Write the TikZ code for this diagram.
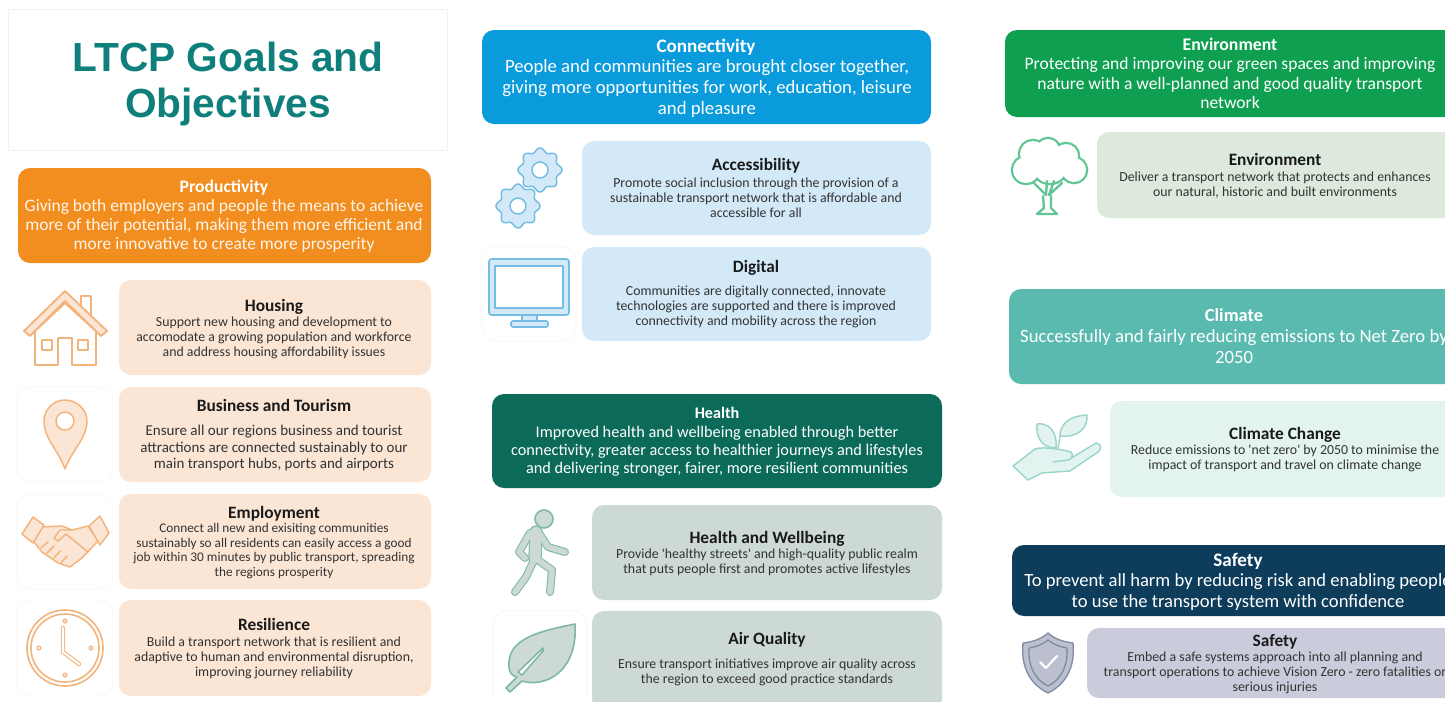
\documentclass[tikz,border=0pt]{standalone}
\usepackage{fontspec}
\setmainfont{Carlito}
\newfontfamily\bodyfont{Carlito}
\newfontfamily\titlefont{Liberation Sans}
\definecolor{cOrange}{HTML}{F28E1F}
\definecolor{cBlue}{HTML}{0A9BDD}
\definecolor{cHealth}{HTML}{0B6B58}
\definecolor{cGreen}{HTML}{0E9F50}
\definecolor{cClimate}{HTML}{5BBAB0}
\definecolor{cSafety}{HTML}{0E3D5B}
\definecolor{sOrange}{HTML}{FBE5D5}
\definecolor{sBlue}{HTML}{D3E9F8}
\definecolor{sHealth}{HTML}{CDD9D5}
\definecolor{sGreen}{HTML}{DDE9DC}
\definecolor{sClimate}{HTML}{E3F3EF}
\definecolor{sSafety}{HTML}{CBCCDB}
\definecolor{lOrange}{HTML}{F3B47C}
\definecolor{lBlue}{HTML}{74BCE4}
\definecolor{lHealth}{HTML}{7DB9A6}
\definecolor{lGreen}{HTML}{62C595}
\definecolor{lClimate}{HTML}{9AD6CB}
\definecolor{lSafety}{HTML}{7F8DA3}
\definecolor{inkT}{HTML}{1A1A1A}
\definecolor{inkB}{HTML}{333333}
\definecolor{teal}{HTML}{0F7F7C}
\tikzset{
  x=0.75pt,y=-0.75pt,
  card/.style={rounded corners=9pt,draw=none},
  iconpanel/.style={rounded corners=10pt,draw=black!4,fill=white,line width=.4pt},
  headtitle/.style={inner sep=0pt,text=white,font=\fontsize{#1}{16}\selectfont\bfseries},
  headbody/.style 2 args={inner sep=0pt,text=white,align=center,font=\fontsize{#1}{#2}\selectfont},
  subtitle/.style={inner sep=0pt,text=inkT,font=\fontsize{13}{15}\selectfont\bfseries},
  subbody/.style 2 args={inner sep=0pt,text=inkB,align=center,font=\bodyfont\fontsize{#1}{#2}\selectfont},
  subplain/.style={subbody={10.37}{11.25}},
  icon/.style={line width=1.4pt,line join=round,line cap=round},
}
\newcommand\cardbox[5]{\path[card,fill=#5] (#1,#2) rectangle (#3,#4);}
\newcommand\panelbox[4]{\path[iconpanel] (#1,#2) rectangle (#3,#4);}
\newcommand\gearicon[2]{%
  \draw[icon,line width=1.1pt,draw=lBlue,fill=sBlue] plot[smooth cycle,domain=0:357,samples=120,variable=\t]
    ({#1+(20+2*cos(8*\t))*cos(\t)},{#2+(20+2*cos(8*\t))*sin(\t)});
  \draw[icon,line width=1.1pt,draw=lBlue,fill=white] (#1,#2) circle[radius=8];}
\begin{document}
\begin{tikzpicture}
\useasboundingbox (0,0) rectangle (1445,701);
\clip (0,0) rectangle (1445,701);
\fill[white] (0,0) rectangle (1445,701);

% ---- title panel
\path[draw=black!6,fill=white,line width=.4pt] (8,9) rectangle (447,150);
\node[inner sep=0pt,text=teal,align=center,font=\titlefont\fontsize{30.5}{34.5}\selectfont\bfseries] (title) at (228,84) {LTCP Goals and\\Objectives};

% ---- left column
\cardbox{18}{168}{431}{263}{cOrange}
\node[headtitle=13.2] (prodT) at (224,188) {Productivity};
\node[headbody={13.1}{14.25},text=white!92!orange] (prodB) at (224,226) {Giving both employers and people the means to achieve\\more of their potential, making them more efficient and\\more innovative to create more prosperity};

\cardbox{119}{280}{431}{375}{sOrange}
\node[subtitle] (houT) at (274,307) {Housing};
\node[subplain] (houB) at (274,338) {Support new housing and development to\\accomodate a growing population and workforce\\and address housing affordability issues};

\panelbox{17}{387}{113}{482}
\cardbox{119}{387}{431}{482}{sOrange}
\node[subtitle] (busT) at (274,405) {Business and Tourism};
\node[subbody={11.25}{12.4}] (busB) at (274,448) {Ensure all our regions business and tourist\\attractions are connected sustainably to our\\main transport hubs, ports and airports};

\panelbox{17}{494}{113}{589}
\cardbox{119}{494}{431}{589}{sOrange}
\node[subtitle] (empT) at (274,514) {Employment};
\node[subbody={9.95}{10.9}] (empB) at (274,551) {Connect all new and exisiting communities\\sustainably so all residents can easily access a good\\job within 30 minutes by public transport, spreading\\the regions prosperity};

\panelbox{17}{600}{113}{696}
\cardbox{119}{600}{431}{696}{sOrange}
\node[subtitle] (resT) at (274,624) {Resilience};
\node[subplain] (resB) at (274,658) {Build a transport network that is resilient and\\adaptive to human and environmental disruption,\\improving journey reliability};

% ---- middle column
\cardbox{482}{30}{931}{124}{cBlue}
\node[headtitle=14.3] (conT) at (706,47) {Connectivity};
\node[headbody={14.05}{15.75}] (conB) at (707,88) {People and communities are brought closer together,\\giving more opportunities for work, education, leisure\\and pleasure};

\cardbox{582}{141}{931}{235}{sBlue}
\node[subtitle] (accT) at (756,166) {Accessibility};
\node[subplain] (accB) at (756,198) {Promote social inclusion through the provision of a\\sustainable transport network that is affordable and\\accessible for all};

\panelbox{482}{247}{576}{341}
\cardbox{582}{247}{931}{341}{sBlue}
\node[subtitle] (digT) at (756,268) {Digital};
\node[subplain] (digB) at (756,307) {Communities are digitally connected, innovate\\technologies are supported and there is improved\\connectivity and mobility across the region};

\cardbox{492}{394}{942}{488}{cHealth}
\node[headtitle=12.1] (heaT) at (717,413) {Health};
\node[headbody={12.2}{13.5}] (heaB) at (717,451) {Improved health and wellbeing enabled through better\\connectivity, greater access to healthier journeys and lifestyles\\and delivering stronger, fairer, more resilient communities};

\cardbox{592}{505}{942}{600}{sHealth}
\node[subtitle] (wellT) at (767,539) {Health and Wellbeing};
\node[subplain] (wellB) at (767,562) {Provide 'healthy streets' and high-quality public realm\\that puts people first and promotes active lifestyles};

\panelbox{493}{611}{587}{705}
\cardbox{592}{611}{942}{711}{sHealth}
\node[subtitle] (airT) at (767,640) {Air Quality};
\node[subplain] (airB) at (767,672) {Ensure transport initiatives improve air quality across\\the region to exceed good practice standards};

% ---- right column
\cardbox{1005}{30}{1470}{117}{cGreen}
\node[headtitle=13.3] (envT) at (1230,44) {Environment};
\node[headbody={13.15}{14.6}] (envB) at (1230,83) {Protecting and improving our green spaces and improving\\nature with a well-planned and good quality transport\\network};

\cardbox{1097}{132}{1470}{218}{sGreen}
\node[subtitle] (enT) at (1275,159) {Environment};
\node[subplain] (enB) at (1275,185) {Deliver a transport network that protects and enhances\\our natural, historic and built environments};

\cardbox{1009}{289}{1470}{384}{cClimate}
\node[headtitle=13.8] (cliT) at (1234,315) {Climate};
\node[headbody={14.05}{15.75}] (cliB) at (1234,347) {Successfully and fairly reducing emissions to Net Zero by\\2050};

\cardbox{1110}{401}{1470}{497}{sClimate}
\node[subtitle] (ccT) at (1285,435) {Climate Change};
\node[subplain] (ccB) at (1285,458) {Reduce emissions to 'net zero' by 2050 to minimise the\\impact of transport and travel on climate change};

\cardbox{1012}{545}{1470}{616}{cSafety}
\node[headtitle=14.3] (safT) at (1238,561) {Safety};
\node[headbody={13.97}{15.75}] (safB) at (1238,592) {To prevent all harm by reducing risk and enabling people\\to use the transport system with confidence};

\cardbox{1087}{628}{1470}{698}{sSafety}
\node[subtitle] (sfT) at (1275,642) {Safety};
\node[subplain] (sfB) at (1275,673) {Embed a safe systems approach into all planning and\\transport operations to achieve Vision Zero - zero fatalities or\\serious injuries};

% ---- house icon
\begin{scope}[icon,draw=lOrange]
\draw[fill=white] (81,296) -- (91,296) -- (91,320) -- (81,312) -- cycle;
\draw[fill=white] (35,331) -- (35,365) -- (58,365) -- (58,338) -- (72,338) -- (72,365) -- (96,365) -- (96,331) -- (65,303) -- cycle;
\draw[fill=sOrange] (65,291) -- (107,331) -- (101,336) -- (65,301) -- (30,336) -- (24,331) -- cycle;
\draw (42,340) rectangle (52,350);
\draw (78,340) rectangle (88,350);
\end{scope}

% ---- pin icon
\draw[icon,line width=1.1pt,draw=lOrange,fill=sOrange] (65,469) .. controls (58,450) and (44,438) .. (44,421) .. controls (44,409) and (54,400) .. (65,400) .. controls (76,400) and (87,409) .. (87,421) .. controls (87,438) and (72,450) .. (65,469) -- cycle;
\draw[icon,line width=1.1pt,draw=lOrange,fill=white] (65,421) circle[radius=9];

% ---- handshake icon
\begin{scope}[icon,line width=1.1pt,draw=lOrange,fill=sOrange]
\draw[fill=sOrange] (40,527) -- (62,526) -- (72,530) -- (88,526) -- (98,541) -- (82,558) -- (70,567) -- (58,563) -- (42,552) -- (34,542) -- cycle;
\draw[fill=sOrange] (22,534) -- (33,517) -- (44,525) -- (33,543) -- cycle;
\draw[fill=sOrange] (89,526) -- (100,516) -- (109,533) -- (100,545) -- cycle;
\draw (72,530) -- (60,530) -- (54,538) -- (58,541) -- (66,534) -- (88,552);
\draw[line cap=round] (41,548) -- (48,542) (47,553) -- (54,546) (54,558) -- (60,551) (61,563) -- (67,556);
\end{scope}

% ---- clock icon
\begin{scope}[icon,line width=1.2pt,draw=lOrange]
\draw[fill=white] (65,648) circle[radius=38];
\draw (65,648) circle[radius=34];
\draw[line width=3.2pt] (63,628) -- (63,652) -- (79,664);
\draw[line width=1.6pt,white] (63,628) -- (63,652) -- (79,664);
\foreach \a/\b in {65/621,65/675,39/648,91/648}{\draw[fill=sOrange,line width=.8pt] (\a,\b) circle[radius=2];}
\end{scope}

% ---- gears
\gearicon{540}{170}
\gearicon{518}{206}

% ---- monitor
\begin{scope}[icon,line width=1.2pt,draw=lBlue]
\draw[fill=sBlue] (522,315) rectangle (537,321);
\draw[fill=sBlue,rounded corners=1.5pt] (511,321) rectangle (548,327);
\draw[fill=sBlue,rounded corners=2pt] (489,259) rectangle (569,315);
\draw[fill=white] (495,266) rectangle (563,308);
\end{scope}

% ---- walker
\begin{scope}[line cap=round,line join=round]
\def\walkerlimbs{(530,533) -- (519,552) -- (525,558) (539,533) -- (548,547) -- (565,552) (535,558) -- (526,577) -- (515,592) (535,558) -- (552,570) -- (550,592)}
\draw[lHealth,line width=6pt] \walkerlimbs;
\draw[lHealth,line width=10pt] (536,532) -- (535,558);
\draw[sHealth,line width=4.4pt] \walkerlimbs;
\draw[sHealth,line width=8.4pt] (536,532) -- (535,558);
\draw[icon,line width=1.2pt,draw=lHealth,fill=sHealth] (544,519) circle[radius=9];
\end{scope}

% ---- leaf
\draw[icon,line width=1.2pt,draw=lHealth,fill=sHealth] (575,624) .. controls (545,630) and (510,637) .. (509,662) .. controls (508,672) and (512,676) .. (517,677) -- (506,688) -- (510,692) -- (522,681) .. controls (545,688) and (578,672) .. (575,624) -- cycle;
\draw[line width=1.2pt,lHealth,line cap=round,line join=round,fill=white] (543,648) -- (518,672) -- (522,675) -- (543,651) -- cycle;

% ---- tree
\begin{scope}
\foreach \a/\b/\r in {1026/170/13,1033/154/13,1048/150/11,1066/156/12,1074/170/12,1050/166/17}{\draw[lGreen,line width=3.4pt] (\a,\b) circle[radius=\r];}
\foreach \a/\b/\r in {1026/170/13,1033/154/13,1048/150/11,1066/156/12,1074/170/12,1050/166/17}{\fill[white] (\a,\b) circle[radius=\r];}
\draw[icon,draw=lGreen,line width=1.8pt] (1034,183) -- (1046,195) -- (1047,181) (1062,183) -- (1049,195) -- (1054,181);
\draw[icon,line width=1.8pt,draw=lGreen,fill=white] (1043,196) -- (1044,208) -- (1037,214) -- (1057,214) -- (1051,208) -- (1051,196);
\end{scope}

% ---- plant in hand
\begin{scope}[icon,draw=lClimate,line width=1.1pt,fill=sClimate]
\draw[fill=sClimate] (1056,448) .. controls (1040,448) and (1036,435) .. (1037,424) .. controls (1048,422) and (1058,432) .. (1056,448) -- cycle;
\draw[fill=sClimate] (1060,436) .. controls (1060,425) and (1068,416) .. (1087,415) .. controls (1088,428) and (1078,438) .. (1060,436) -- cycle;
\draw (1058,449) -- (1060,436);
\draw[fill=sClimate] (1013,466) -- (1035,449) .. controls (1045,446) and (1060,450) .. (1068,451) .. controls (1074,451) and (1074,459) .. (1068,460) -- (1078,454) -- (1096,443) .. controls (1102,444) and (1102,449) .. (1098,452) -- (1070,471) -- (1042,473) -- (1028,480) -- cycle;
\draw (1053,462) -- (1068,460);
\end{scope}

% ---- shield
\begin{scope}[icon,draw=lSafety,line width=1pt]
\draw[fill=sSafety!80!lSafety] (1048,633) .. controls (1056,640) and (1065,642) .. (1073,643) .. controls (1075,665) and (1068,683) .. (1048,693) .. controls (1028,683) and (1021,665) .. (1023,643) .. controls (1031,642) and (1040,640) .. (1048,633) -- cycle;
\draw (1048,640) .. controls (1054,645) and (1061,647) .. (1067,648) .. controls (1068,665) and (1062,679) .. (1048,686) .. controls (1034,679) and (1028,665) .. (1029,648) .. controls (1035,647) and (1042,645) .. (1048,640) -- cycle;
\draw[white,line width=1.6pt] (1040,662) -- (1046,668) -- (1057,656);
\end{scope}
\end{tikzpicture}
\end{document}
